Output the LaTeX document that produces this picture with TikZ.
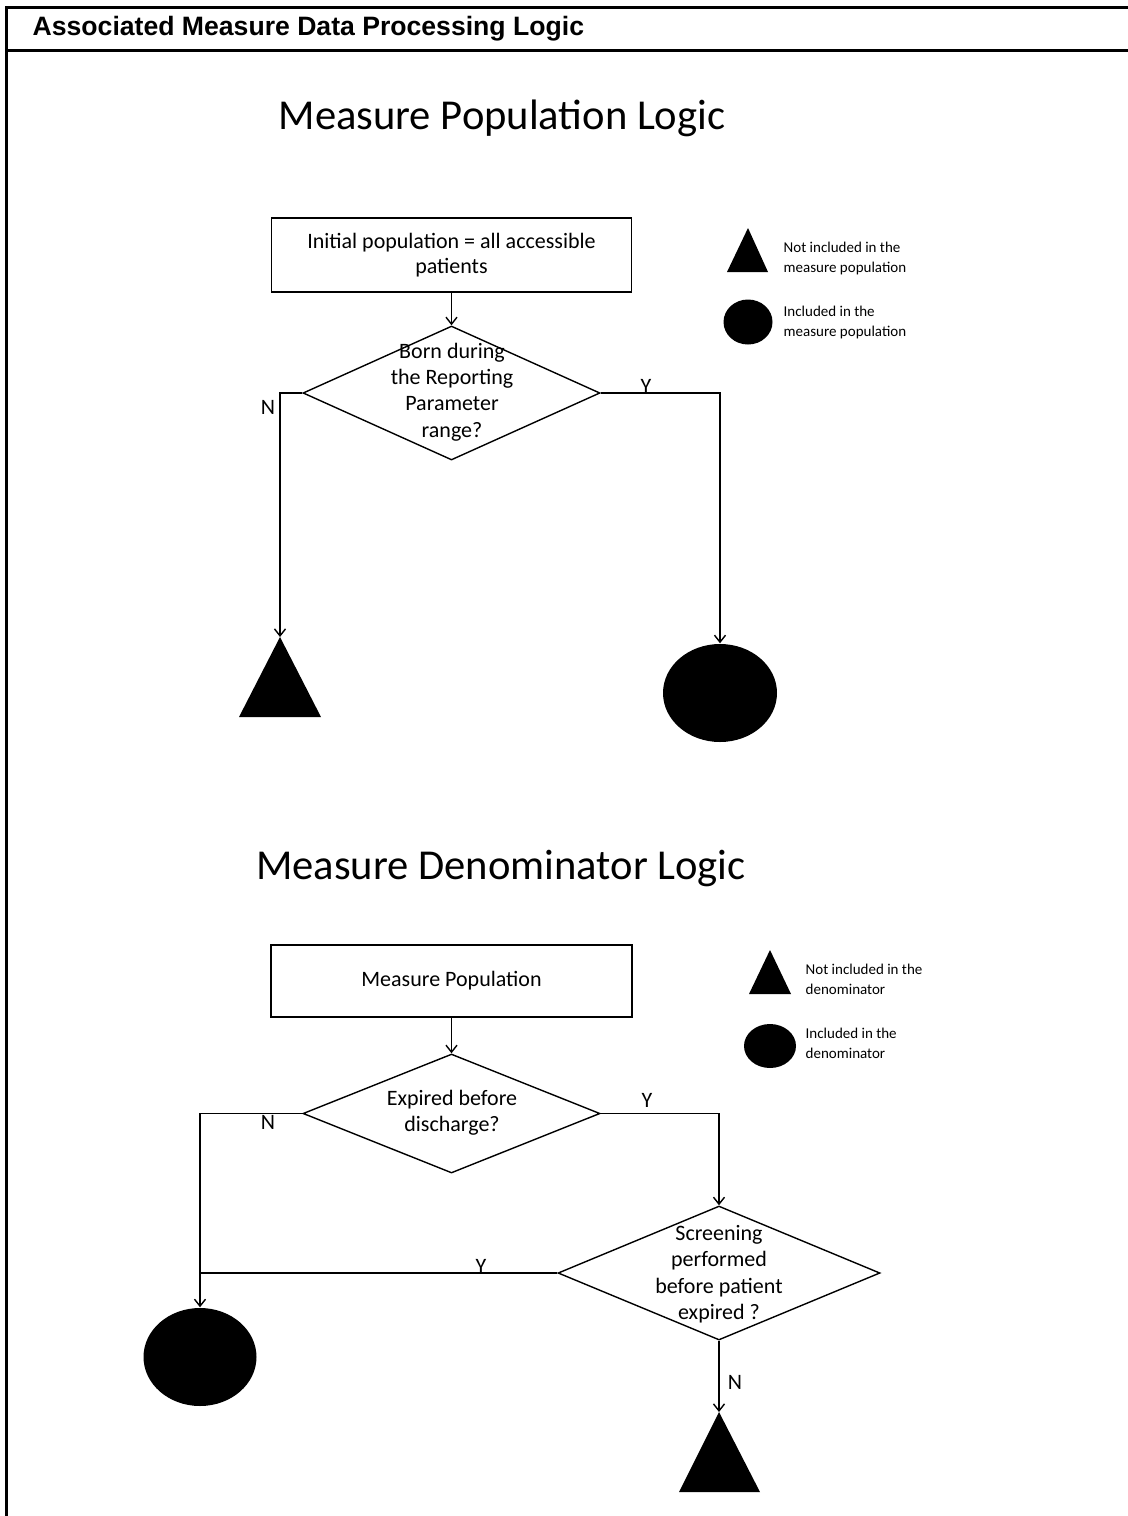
\documentclass[tikz,border=0pt]{standalone}
\usepackage{fontspec}
\setmainfont{Carlito}
\newfontfamily\titlefont{Liberation Sans}
\usetikzlibrary{shapes.geometric,arrows.meta}
\begin{document}
\begin{tikzpicture}[x=0.5pt,y=-0.5pt,
  line width=0.7pt,
  flow/.style={-{Straight Barb[length=3.5pt,width=5.5pt]}},
  procbox/.style={draw, inner sep=0pt, align=center, font=\fontsize{11}{12.6}\selectfont},
  decision/.style={draw, diamond, inner sep=0pt},
  dtext/.style={align=center, inner sep=0pt, font=\fontsize{11}{13.2}\selectfont},
  yn/.style={font=\fontsize{11}{13}\selectfont, inner sep=0pt},
  legtext/.style={anchor=west, align=left, inner sep=0pt, font=\fontsize{7.5}{10}\selectfont},
  heading/.style={font=\fontsize{21.3}{26}\selectfont, inner sep=0pt},
  endcircle/.style={ellipse, fill=black, draw=none, inner sep=0pt},
  framerule/.style={line width=1.5pt}
]
\useasboundingbox (0,0) rectangle (1128,1516);
% frame
\draw[framerule] (6,1516) -- (6,7) -- (1128,7);
\draw[framerule] (6,50) -- (1128,50);
\node[anchor=west, inner sep=0pt, font=\titlefont\bfseries\fontsize{13.3}{15}\selectfont] (title) at (32,29) {Associated Measure Data Processing Logic};

% ---------- Section 1 ----------
\node[heading] (h1) at (502,118) {Measure Population Logic};
\node[procbox, minimum width=180pt, minimum height=37pt] (b1) at (451.5,255) {Initial population = all accessible\\patients};
\node[decision, minimum width=148.5pt, minimum height=67pt] (d1) at (451.5,393) {};
\node[dtext] (d1t) at (452,392) {Born during\\the Reporting\\Parameter\\range?};
\coordinate (t1) at (280,637);
\fill (t1) -- (321,717) -- (239,717) -- cycle;
\node[endcircle, minimum width=57pt, minimum height=49pt] (c1) at (720,693) {};

\draw[flow] (b1.south) -- (d1.north);
\draw[flow] (d1.west) -| (t1);
\draw[flow] (d1.east) -| (c1.north);
\node[yn] (n1) at (268,407) {N};
\node[yn] (y1) at (646,386) {Y};

% legend 1
\coordinate (lt1) at (748,228);
\fill (lt1) -- (768,272) -- (727,272) -- cycle;
\node[legtext] (lt1txt) at (783,258) {Not included in the\\measure population};
\node[endcircle, minimum width=24.5pt, minimum height=22.5pt] (lc1) at (748,322) {};
\node[legtext] (lc1txt) at (783,322) {Included in the\\measure population};

% ---------- Section 2 ----------
\node[heading] (h2) at (501,868) {Measure Denominator Logic};
\node[procbox, minimum width=180.5pt, minimum height=36pt] (b2) at (451.5,981) {Measure Population};
\node[decision, minimum width=148.5pt, minimum height=59.5pt] (d2) at (451.5,1113.5) {};
\node[dtext] (d2t) at (452,1113) {Expired before\\discharge?};
\node[decision, minimum width=161pt, minimum height=67pt] (d3) at (719,1273) {};
\node[dtext] (d3t) at (719,1274) {Screening\\performed\\before patient\\expired ?};
\node[endcircle, minimum width=56.5pt, minimum height=49pt] (c2) at (200,1357) {};
\coordinate (t2) at (719,1412);
\fill (t2) -- (760,1492) -- (679,1492) -- cycle;

\draw[flow] (b2.south) -- (d2.north);
\draw[flow] (d2.west) -| (c2.north);
\draw[flow] (d2.east) -| (d3.north);
\draw (d3.west) -- (d3.west -| c2.north);
\draw[flow] (d3.south) -- (t2);
\node[yn] (n2) at (268,1122) {N};
\node[yn] (y2) at (647,1100) {Y};
\node[yn] (y3) at (481,1266) {Y};
\node[yn] (n3) at (735,1382) {N};

% legend 2
\coordinate (lt2) at (770,950);
\fill (lt2) -- (791,994) -- (749,994) -- cycle;
\node[legtext] (lt2txt) at (805,979) {Not included in the\\denominator};
\node[endcircle, minimum width=26pt, minimum height=22pt] (lc2) at (770,1046) {};
\node[legtext] (lc2txt) at (805,1043) {Included in the\\denominator};
\end{tikzpicture}
\end{document}
